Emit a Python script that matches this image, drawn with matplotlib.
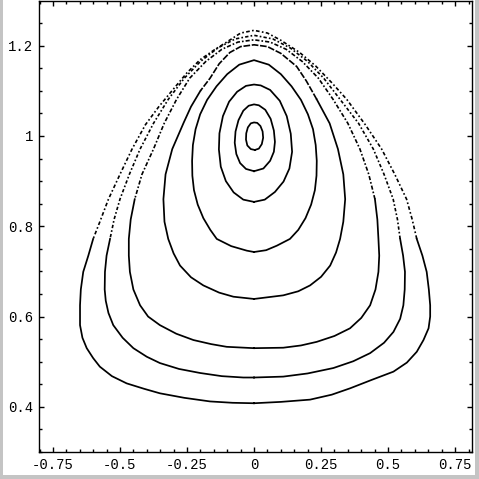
import matplotlib
matplotlib.use('Agg')
import matplotlib.pyplot as plt
import numpy as np
from matplotlib.patches import Rectangle

# invariant curves (Poincare section), inner -> outer
# each curve listed counterclockwise starting at the bottom
c1x = [0.003, 0.018, 0.029, 0.034, 0.032, 0.024, 0.012, 0.0, -0.012, -0.023, -0.029, -0.030, -0.025, -0.012, 0.003]
c1y = [0.969, 0.972, 0.982, 0.996, 1.010, 1.022, 1.029, 1.030, 1.028, 1.019, 1.006, 0.992, 0.979, 0.971, 0.969]

c2x = [0.0, 0.035, 0.060, 0.074, 0.078, 0.074, 0.062, 0.042, 0.018, 0.0, -0.020, -0.040, -0.058, -0.069, -0.072, -0.066, -0.052, -0.030, 0.0]
c2y = [0.922, 0.928, 0.945, 0.965, 0.987, 1.012, 1.038, 1.058, 1.068, 1.070, 1.067, 1.056, 1.035, 1.010, 0.985, 0.960, 0.940, 0.927, 0.922]

c3x = [0.0, 0.040, 0.078, 0.110, 0.132, 0.142, 0.137, 0.122, 0.096, 0.060, 0.025, 0.0, -0.030, -0.063, -0.093, -0.116, -0.129, -0.131, -0.124, -0.105, -0.076, -0.040, 0.0]
c3y = [0.854, 0.859, 0.876, 0.899, 0.928, 0.965, 1.005, 1.044, 1.078, 1.102, 1.112, 1.114, 1.111, 1.098, 1.076, 1.044, 1.006, 0.970, 0.932, 0.900, 0.875, 0.859, 0.854]

c4x = [0.0, 0.045, 0.085, 0.134, 0.165, 0.192, 0.213, 0.227, 0.233, 0.234, 0.230, 0.220, 0.201, 0.175, 0.140, 0.100, 0.055, 0.0,
       -0.055, -0.100, -0.140, -0.175, -0.201, -0.218, -0.228, -0.231, -0.230, -0.224, -0.210, -0.189, -0.163, -0.139, -0.085, -0.027, 0.0]
c4y = [0.743, 0.747, 0.757, 0.772, 0.792, 0.818, 0.848, 0.880, 0.912, 0.945, 0.980, 1.015, 1.048, 1.080, 1.110, 1.137, 1.158, 1.168,
       1.158, 1.137, 1.110, 1.080, 1.048, 1.015, 0.980, 0.945, 0.912, 0.880, 0.848, 0.818, 0.792, 0.772, 0.756, 0.746, 0.743]

c5x = [0.0, 0.109, 0.165, 0.209, 0.250, 0.284, 0.306, 0.321, 0.333, 0.340, 0.333, 0.313, 0.282, 0.234, 0.195, 0.159, 0.100, 0.050, 0.0,
       -0.050, -0.090, -0.130, -0.164, -0.200, -0.235, -0.262, -0.305, -0.330, -0.338, -0.334, -0.320, -0.300, -0.276, -0.235, -0.189, -0.130, -0.077, 0.0]
c5y = [0.639, 0.647, 0.656, 0.669, 0.688, 0.713, 0.742, 0.772, 0.810, 0.860, 0.915, 0.971, 1.028, 1.081, 1.122, 1.154, 1.183, 1.198, 1.202,
       1.198, 1.185, 1.160, 1.128, 1.100, 1.065, 1.030, 0.971, 0.915, 0.860, 0.810, 0.772, 0.740, 0.713, 0.687, 0.669, 0.653, 0.644, 0.639]

c6x = [0.0, 0.109, 0.175, 0.234, 0.300, 0.358, 0.400, 0.433, 0.453, 0.464, 0.467, 0.464, 0.460, 0.451, 0.428, 0.395, 0.350, 0.295, 0.240, 0.180, 0.120, 0.060, 0.0,
       -0.060, -0.120, -0.180, -0.240, -0.289, -0.335, -0.375, -0.418, -0.445, -0.460, -0.467, -0.467, -0.463, -0.450, -0.425, -0.395, -0.351, -0.290, -0.226, -0.160, -0.102, 0.0]
c6y = [0.530, 0.531, 0.536, 0.544, 0.557, 0.574, 0.597, 0.625, 0.660, 0.699, 0.735, 0.772, 0.815, 0.860, 0.915, 0.971, 1.028, 1.081, 1.128, 1.165, 1.192, 1.208, 1.213,
       1.208, 1.192, 1.165, 1.128, 1.081, 1.028, 0.971, 0.915, 0.860, 0.815, 0.772, 0.735, 0.699, 0.660, 0.625, 0.600, 0.581, 0.562, 0.548, 0.539, 0.533, 0.530]

c7x = [0.0, 0.109, 0.200, 0.296, 0.370, 0.433, 0.485, 0.520, 0.545, 0.557, 0.562, 0.563, 0.556, 0.545, 0.535, 0.519, 0.485, 0.445, 0.390, 0.321, 0.260, 0.200, 0.135, 0.070, 0.0,
       -0.070, -0.135, -0.200, -0.260, -0.320, -0.375, -0.425, -0.465, -0.500, -0.522, -0.537, -0.550, -0.556, -0.557, -0.553, -0.543, -0.525, -0.490, -0.450, -0.400, -0.351, -0.280, -0.201, -0.120, -0.040, 0.0]
c7y = [0.465, 0.467, 0.474, 0.486, 0.501, 0.519, 0.542, 0.566, 0.595, 0.625, 0.660, 0.699, 0.735, 0.772, 0.815, 0.860, 0.915, 0.971, 1.028, 1.081, 1.128, 1.165, 1.195, 1.215, 1.223,
       1.215, 1.195, 1.165, 1.128, 1.081, 1.028, 0.971, 0.915, 0.860, 0.815, 0.772, 0.735, 0.699, 0.660, 0.635, 0.608, 0.581, 0.553, 0.530, 0.511, 0.497, 0.484, 0.475, 0.468, 0.465, 0.465]

c8x = [0.0, 0.100, 0.209, 0.290, 0.358, 0.440, 0.520, 0.570, 0.607, 0.632, 0.651, 0.657, 0.657, 0.652, 0.644, 0.628, 0.607, 0.590, 0.569, 0.525, 0.476, 0.415, 0.346, 0.290, 0.230, 0.170, 0.100, 0.050, 0.0,
       -0.050, -0.102, -0.150, -0.201, -0.250, -0.295, -0.355, -0.405, -0.455, -0.500, -0.543, -0.575, -0.600, -0.618, -0.637, -0.646, -0.649, -0.649, -0.640, -0.624, -0.600, -0.575, -0.530, -0.475, -0.410, -0.351, -0.260, -0.164, -0.080, 0.0]
c8y = [0.408, 0.411, 0.416, 0.427, 0.441, 0.460, 0.478, 0.498, 0.522, 0.548, 0.574, 0.600, 0.625, 0.660, 0.699, 0.735, 0.772, 0.815, 0.860, 0.915, 0.971, 1.025, 1.081, 1.118, 1.155, 1.185, 1.212, 1.228, 1.234,
       1.228, 1.208, 1.190, 1.169, 1.140, 1.108, 1.065, 1.025, 0.971, 0.915, 0.860, 0.810, 0.772, 0.735, 0.699, 0.660, 0.625, 0.581, 0.553, 0.530, 0.508, 0.489, 0.468, 0.452, 0.440, 0.430, 0.420, 0.412, 0.409, 0.408]

curves = [(c1x, c1y), (c2x, c2y), (c3x, c3y), (c4x, c4y),
          (c5x, c5y), (c6x, c6y), (c7x, c7y), (c8x, c8y)]
# above this height the orbit points get sparse (drawn broken)
sparse_above = [9, 9, 9, 9, 1.10, 0.88, 0.80, 0.78]
sparse_dash = [None, None, None, None,
               (0, (4.0, 1.0)),
               (0, (2.5, 1.2, 1.0, 1.2)),
               (0, (2.0, 1.3, 1.0, 1.3)),
               (0, (2.2, 1.4, 1.0, 1.4))]

xticks = [-0.75, -0.5, -0.25, 0, 0.25, 0.5, 0.75]
xlabels = ['-0.75', '-0.5', '-0.25', '0', '0.25', '0.5', '0.75']
yticks = [0.4, 0.6, 0.8, 1.0, 1.2]
ylabels = ['0.4', '0.6', '0.8', '1', '1.2']

fig = plt.figure(figsize=(4.79, 4.79), dpi=100)
fig.patch.set_facecolor('#c4c4c4')
fig.add_artist(Rectangle((3/479, 4/479), 472/479, 1 - 4/479, transform=fig.transFigure,
                         facecolor='white', edgecolor='none', zorder=-5))
ax = fig.add_axes([39/479, 27/479, 433/479, 451/479])
ax.set_facecolor('white')

for (cx, cy), thr, ds in zip(curves, sparse_above, sparse_dash):
    cx = np.array(cx)
    cy = np.array(cy)
    up = np.where(cy > thr)[0]
    if len(up) == 0:
        ax.plot(cx, cy, color='black', lw=1.25, solid_joinstyle='round')
        continue
    i0 = max(up[0] - 1, 0)
    i1 = min(up[-1] + 1, len(cy) - 1)
    ys = cy.copy()
    ys[i0 + 1:i1] = np.nan
    ax.plot(cx, ys, color='black', lw=1.25, solid_joinstyle='round')
    ax.plot(cx[i0:i1 + 1], cy[i0:i1 + 1], color='black', lw=1.2,
            linestyle=ds)

ax.set_xlim(-0.802, 0.813)
ax.set_ylim(0.305, 1.299)
ax.set_xticks(xticks)
ax.set_xticklabels(xlabels)
ax.set_yticks(yticks)
ax.set_yticklabels(ylabels)
ax.set_xticks(np.arange(-0.80, 0.81, 0.05), minor=True)
ax.set_yticks(np.arange(0.30, 1.30, 0.05), minor=True)
ax.tick_params(which='both', direction='in', top=True, right=True,
               width=1.0, color='black')
ax.tick_params(which='major', length=3.5, labelsize=10, pad=4)
ax.tick_params(which='minor', length=2.5)
for lab in ax.get_xticklabels() + ax.get_yticklabels():
    lab.set_family('Liberation Mono')
for s in ax.spines.values():
    s.set_linewidth(1.0)
    s.set_color('black')

fig.savefig('out.png', dpi=100, facecolor=fig.get_facecolor())
